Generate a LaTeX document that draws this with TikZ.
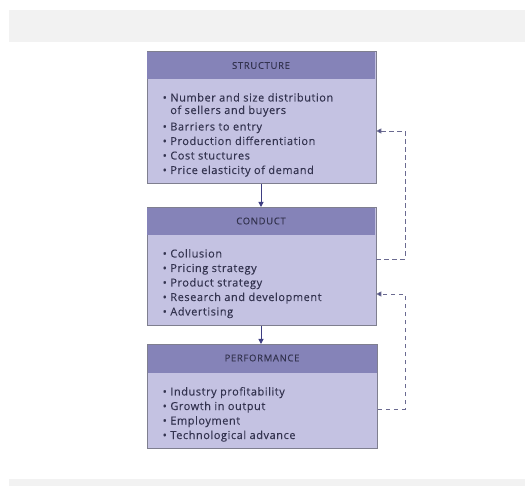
\documentclass[tikz,border=0pt]{standalone}
\usepackage{fontspec}
\setmainfont{Open Sans}
\newfontfamily\itemfont[LetterSpace=5,FakeBold=0.15]{Open Sans}
\newfontfamily\headfont[LetterSpace=7,FakeBold=0.15]{Open Sans}
\usetikzlibrary{arrows.meta}
\definecolor{hdr}{HTML}{8583B8}
\definecolor{bdy}{HTML}{C4C2E2}
\definecolor{edge}{HTML}{7F7F8F}
\definecolor{txt}{HTML}{33334F}
\definecolor{arr}{HTML}{3E3E82}
\definecolor{dsh}{HTML}{6A6A90}
\definecolor{band}{HTML}{F2F2F2}
\tikzset{
  boxbody/.style={draw=edge, line width=0.8pt, fill=bdy, anchor=north west, inner sep=0pt},
  boxhead/.style={fill=hdr, anchor=north west, inner sep=0pt},
  headtext/.style={text=txt, font=\headfont\fontsize{9.5}{11}\selectfont},
  itemtext/.style={text=txt, font=\itemfont\fontsize{11}{13}\selectfont, anchor=base west, inner sep=0pt},
  flowarrow/.style={draw=arr, line width=1pt, -{Triangle[length=5pt,width=5pt]}},
  feedback/.style={draw=dsh, line width=0.9pt, dash pattern=on 4.5pt off 3.5pt, -{Triangle[length=5pt,width=5pt,fill=arr]}},
}
\newcommand{\itm}{\textbullet\hspace{3.5pt}}
\begin{document}
\begin{tikzpicture}[x=1pt,y=-1pt]
\useasboundingbox (0,0) rectangle (525,486);
\fill[band] (9,10) rectangle (525,42);
\fill[band] (9,479) rectangle (525,486);

% STRUCTURE
\node[boxbody, minimum width=229pt, minimum height=132pt] (s) at (146.5,51) {};
\node[boxhead, minimum width=228.2pt, minimum height=27.6pt] (sh) at (146.9,51.4) {};
\node[headtext] (sht) at (261,65.5) {STRUCTURE};
\node[itemtext] (s1) at (162.5,101.5) {\itm Number and size distribution};
\node[itemtext] (s2) at (162.5,114) {\phantom{\itm}of sellers and buyers};
\node[itemtext] (s3) at (162.5,130.5) {\itm Barriers to entry};
\node[itemtext] (s4) at (162.5,145) {\itm Production differentiation};
\node[itemtext] (s5) at (162.5,159.5) {\itm Cost stuctures};
\node[itemtext] (s6) at (162.5,174) {\itm Price elasticity of demand};

% CONDUCT
\node[boxbody, minimum width=229pt, minimum height=118pt] (c) at (146.5,207) {};
\node[boxhead, minimum width=228.2pt, minimum height=27.6pt] (ch) at (146.9,207.4) {};
\node[headtext] (cht) at (261,221) {CONDUCT};
\node[itemtext] (c1) at (162.5,257.5) {\itm Collusion};
\node[itemtext] (c2) at (162.5,272) {\itm Pricing strategy};
\node[itemtext] (c3) at (162.5,286.5) {\itm Product strategy};
\node[itemtext] (c4) at (162.5,301) {\itm Research and development};
\node[itemtext] (c5) at (162.5,315.5) {\itm Advertising};

% PERFORMANCE
\node[boxbody, minimum width=230pt, minimum height=104pt] (p) at (147,344) {};
\node[boxhead, minimum width=229.2pt, minimum height=28.6pt] (ph) at (147.4,344.4) {};
\node[headtext] (pht) at (262,358) {PERFORMANCE};
\node[itemtext] (p1) at (162.5,395.5) {\itm Industry profitability};
\node[itemtext] (p2) at (162.5,410) {\itm Growth in output};
\node[itemtext] (p3) at (162.5,424.5) {\itm Employment};
\node[itemtext] (p4) at (162.5,439) {\itm Technological advance};

% flow arrows
\draw[flowarrow] (s.south -| 261,0) -- (c.north -| 261,0);
\draw[flowarrow] (c.south -| 261,0) -- (p.north -| 261,0);

% feedback loops
\coordinate (k1) at (405,259);
\coordinate (k2) at (405,131);
\coordinate (k3) at (405,409);
\coordinate (k4) at (405,294);
\draw[feedback] (c.east |- k1) -- (k1) -- (k2) -- (s.east |- k2);
\draw[feedback] (p.east |- k3) -- (k3) -- (k4) -- (c.east |- k4);
\end{tikzpicture}
\end{document}
